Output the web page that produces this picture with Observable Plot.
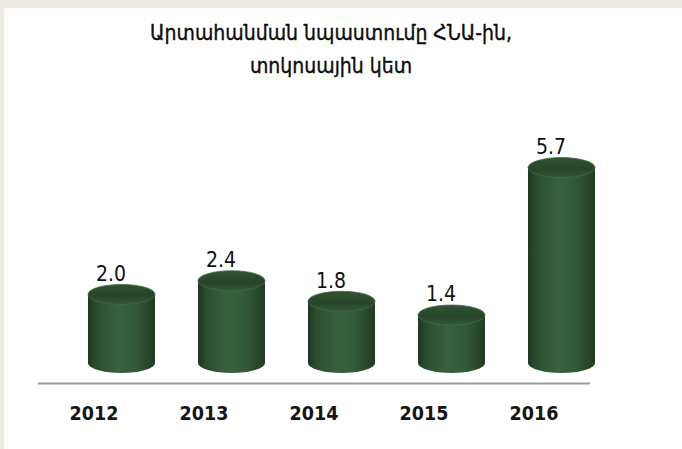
<!DOCTYPE html>
<html><head><meta charset="utf-8">
<script src="https://cdn.jsdelivr.net/npm/d3@7"></script>
<script src="https://cdn.jsdelivr.net/npm/@observablehq/plot@0.6"></script>
<style>
html,body{margin:0;padding:0;background:#edebe2;width:682px;height:449px;overflow:hidden}
#panel{position:absolute;left:4px;top:8px;width:678px;height:441px;background:#fff}
#title{position:absolute;left:0;top:9px;width:654px;text-align:center;font-family:"DejaVu Sans Condensed","DejaVu Sans",sans-serif;font-size:21px;line-height:33px;color:#0d0d0d;-webkit-text-stroke:0.35px #0d0d0d}
#chart{position:absolute;left:0;top:88px}
</style></head><body>
<div id="panel">
<div id="title">Արտահանման նպաստումը ՀՆԱ-ին,<br>տոկոսային կետ</div>
<div id="chart"></div>
</div>
<script>
const years = ["2012", "2013", "2014", "2015", "2016"];
const values = [2.0, 2.4, 1.8, 1.4, 5.7];
const valueLabels = ["2.0", "2.4", "1.8", "1.4", "5.7"];

const data = years.map((year, i) => ({year, value: values[i], label: valueLabels[i]}));

function cylinders(index, scales) {
  const x = scales.x, y = scales.y;
  const bw = typeof x.bandwidth === "function" && x.bandwidth() > 0 ? x.bandwidth() : 67;
  const g = d3.create("svg:g");
  const defs = g.append("defs");
  const body = defs.append("linearGradient").attr("id", "cylBody").attr("x1", 0).attr("x2", 1).attr("y1", 0).attr("y2", 0);
  [[0, "#1d3721"], [0.12, "#2b4d2f"], [0.45, "#38623e"], [0.7, "#335a38"], [0.92, "#264428"], [1, "#1f3a23"]]
    .forEach(([o, c]) => body.append("stop").attr("offset", o).attr("stop-color", c));
  const top = defs.append("linearGradient").attr("id", "cylTop").attr("x1", 0).attr("x2", 0).attr("y1", 0).attr("y2", 1);
  [[0, "#2f5333"], [0.6, "#274528"], [1, "#325a37"]]
    .forEach(([o, c]) => top.append("stop").attr("offset", o).attr("stop-color", c));
  const ry = 10;
  for (const d of data) {
    const rx = bw / 2;
    const cx = x(d.year) + rx;
    const y0 = y(0), y1 = y(d.value);
    g.append("path")
      .attr("d", `M${cx - rx},${y1}L${cx - rx},${y0}A${rx},${ry} 0 0 0 ${cx + rx},${y0}L${cx + rx},${y1}Z`)
      .attr("fill", "url(#cylBody)");
    g.append("ellipse")
      .attr("cx", cx).attr("cy", y1).attr("rx", rx).attr("ry", ry)
      .attr("fill", "url(#cylTop)")
      .attr("stroke", "#3f6b45").attr("stroke-width", 0.8);
  }
  return g.node();
}

const chart = Plot.plot({
  width: 678,
  height: 353,
  marginLeft: 40,
  marginRight: 43,
  marginTop: 27,
  marginBottom: 86,
  style: {fontFamily: "'DejaVu Sans Condensed', 'DejaVu Sans', sans-serif", background: "transparent"},
  x: {type: "band", domain: years, padding: 0.39, axis: null},
  y: {domain: [0, 7], axis: null},
  marks: [
    Plot.ruleY([0], {dy: 20, insetLeft: -6, insetRight: 49, stroke: "#9b9b9b", strokeWidth: 2}),
    cylinders,
    Plot.text(data, {x: "year", y: "value", text: "label", dy: -21, dx: -11, fontSize: 21, fill: "#111"}),
    Plot.text(data, {x: "year", y: 0, text: "year", dy: 50, dx: -28, fontSize: 19.5, fontWeight: "bold", fill: "#151515"})
  ]
});
document.getElementById("chart").appendChild(chart);
</script>
</body></html>
